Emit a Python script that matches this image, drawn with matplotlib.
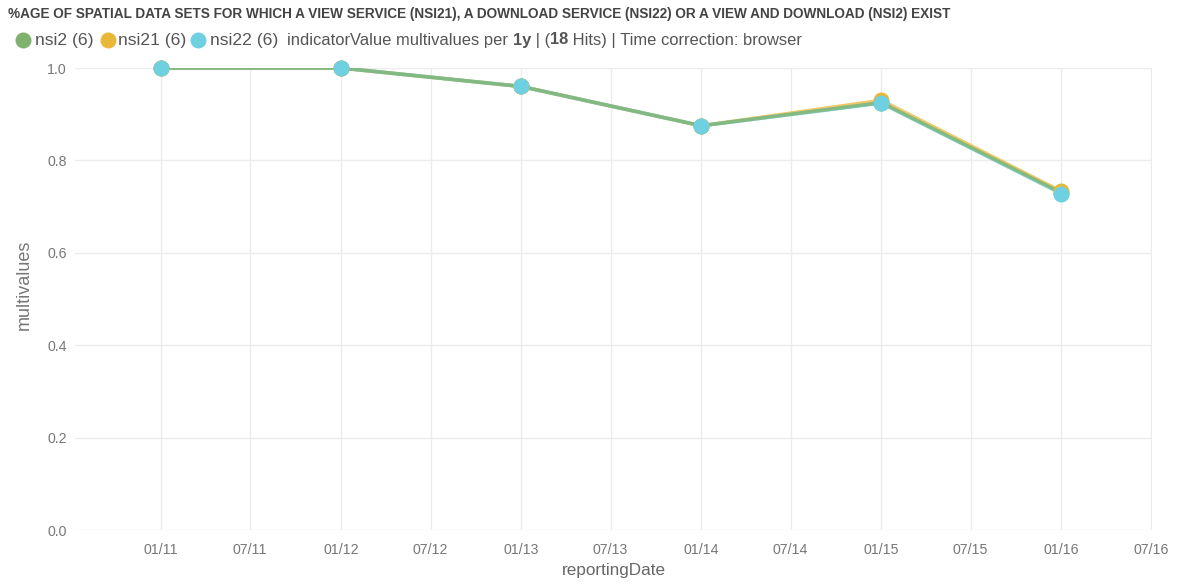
import datetime as dt
import matplotlib
matplotlib.use('Agg')
import matplotlib.pyplot as plt
import matplotlib.dates as mdates
from matplotlib.lines import Line2D

plt.rcParams['font.family'] = ['Liberation Sans', 'DejaVu Sans']

dates = [dt.datetime(y, 1, 1) for y in range(2011, 2017)]
nsi2 = [1.0, 1.0, 0.96, 0.875, 0.925, 0.730]
nsi21 = [1.0, 1.0, 0.96, 0.875, 0.930, 0.733]
nsi22 = [1.0, 1.0, 0.96, 0.875, 0.924, 0.728]

series = [('nsi2 (6)', nsi2, '#7EB26D'),
          ('nsi21 (6)', nsi21, '#EAB839'),
          ('nsi22 (6)', nsi22, '#6ED0E0')]

title = ('%AGE OF SPATIAL DATA SETS FOR WHICH A VIEW SERVICE (NSI21), A DOWNLOAD '
         'SERVICE (NSI22) OR A VIEW AND DOWNLOAD (NSI2) EXIST')

W, H = 1177, 586
fig = plt.figure(figsize=(W / 100, H / 100), dpi=100)
ax = fig.add_axes([75 / W, 1 - 530 / H, (1152 - 75) / W, (530 - 68) / H])

# lines: yellow / cyan underneath, green on top, markers above everything
for i in [1, 2, 0]:
    name, vals, col = series[i]
    ax.plot(dates, vals, color=col, lw=2.6, alpha=0.75, zorder=3)
for name, vals, col in series:
    ax.plot(dates, vals, ls='none', marker='o', ms=11.5, color=col,
            markeredgewidth=0, zorder=4, clip_on=False)

ax.set_ylim(0, 1.0)
ax.set_xlim(dt.datetime(2010, 7, 11), dt.datetime(2016, 7, 3))
ax.xaxis.set_major_locator(mdates.MonthLocator(bymonth=[1, 7]))
ax.xaxis.set_major_formatter(mdates.DateFormatter('%m/%y'))
ax.set_yticks([0.0, 0.2, 0.4, 0.6, 0.8, 1.0])
ax.set_yticklabels(['0.0', '0.2', '0.4', '0.6', '0.8', '1.0'])

for s in ax.spines.values():
    s.set_visible(False)
ax.grid(True, color='#ececec', lw=1)
ax.set_axisbelow(True)
ax.tick_params(length=0, labelsize=10.2, labelcolor='#777777')
ax.tick_params(axis='x', pad=9)
ax.tick_params(axis='y', pad=6)

ax.set_xlabel('reportingDate', fontsize=12.3, color='#666666', labelpad=5)
ax.set_ylabel('multivalues', fontsize=13, color='#777777')
ax.yaxis.set_label_coords(-0.039, 0.53)

fig.text(8 / W, 1 - 14 / H, title, fontsize=9.8, fontweight='bold',
         color='#444444', va='center', ha='left')

# legend row
ly = 1 - 40 / H
for (name, vals, col), cx, tx in zip(series, [23, 108, 198], [35, 118, 210]):
    fig.add_artist(Line2D([cx / W], [ly], marker='o', ms=11.5, color=col,
                          markeredgewidth=0, transform=fig.transFigure))
    fig.text(tx / W, ly, name, fontsize=12.6, color='#555555', va='center')

pieces = [('indicatorValue multivalues per ', 'normal'), ('1y', 'bold'),
          (' | (', 'normal'), ('18', 'bold'),
          (' Hits) | Time correction: browser', 'normal')]
fig.canvas.draw()
r = fig.canvas.get_renderer()
x = 287
for txt, w in pieces:
    t = fig.text(x / W, ly, txt, fontsize=11.9, fontweight=w, color='#555555',
                 va='center')
    x += t.get_window_extent(r).width

fig.savefig('out.png', dpi=100)
